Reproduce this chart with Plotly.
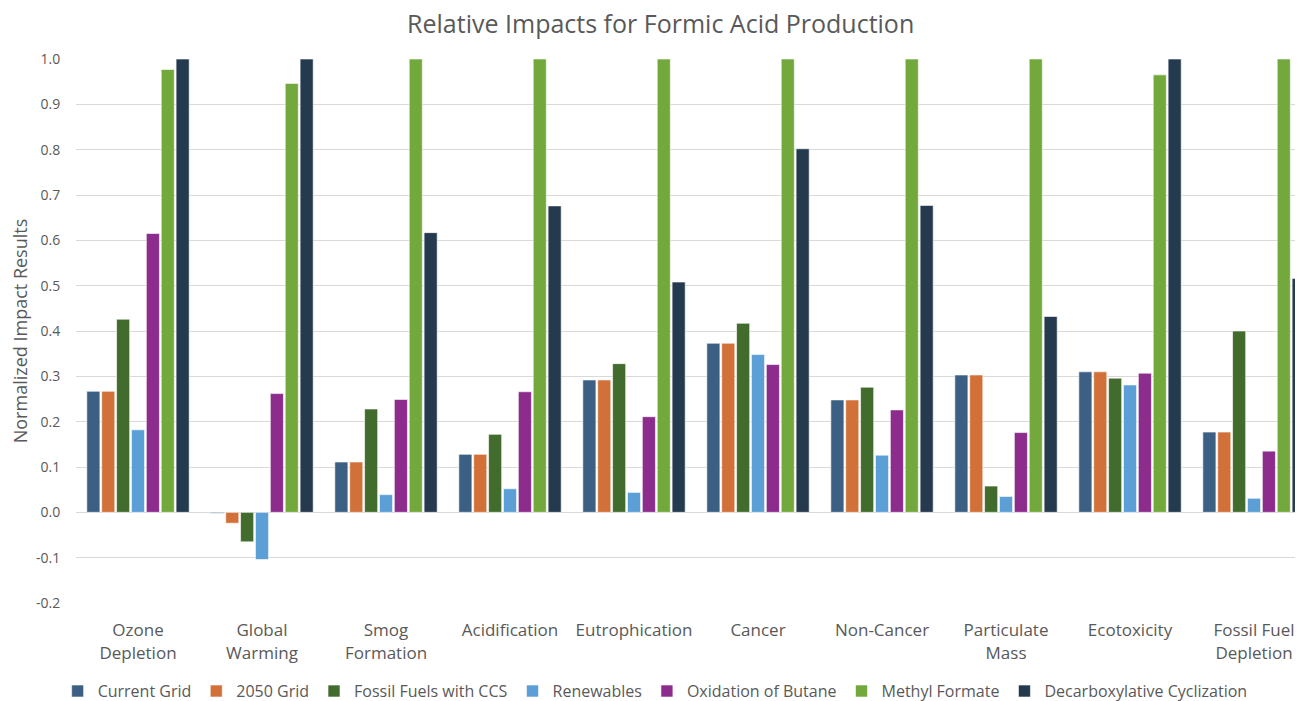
import plotly.graph_objects as go

categories = ["Ozone<br>Depletion", "Global<br>Warming", "Smog<br>Formation", "Acidification",
              "Eutrophication", "Cancer", "Non-Cancer", "Particulate<br>Mass", "Ecotoxicity",
              "Fossil Fuel<br>Depletion"]

current_grid = [0.267, -0.002, 0.111, 0.128, 0.292, 0.373, 0.248, 0.303, 0.310, 0.177]
grid_2050 = [0.267, -0.024, 0.111, 0.128, 0.292, 0.373, 0.248, 0.303, 0.310, 0.177]
fossil_ccs = [0.426, -0.065, 0.228, 0.172, 0.328, 0.417, 0.276, 0.058, 0.296, 0.400]
renewables = [0.182, -0.104, 0.039, 0.052, 0.044, 0.348, 0.126, 0.035, 0.281, 0.031]
oxidation_butane = [0.615, 0.262, 0.249, 0.266, 0.211, 0.326, 0.226, 0.176, 0.307, 0.135]
methyl_formate = [0.977, 0.946, 1.0, 1.0, 1.0, 1.0, 1.0, 1.0, 0.965, 1.0]
decarboxylative = [1.0, 1.0, 0.617, 0.676, 0.508, 0.802, 0.677, 0.432, 1.0, 0.516]

series_names = ["Current Grid", "2050 Grid", "Fossil Fuels with CCS", "Renewables",
                "Oxidation of Butane", "Methyl Formate", "Decarboxylative Cyclization"]
series_values = [current_grid, grid_2050, fossil_ccs, renewables, oxidation_butane,
                 methyl_formate, decarboxylative]
series_colors = ["#3B6083", "#D2703A", "#426C2D", "#5B9FD6", "#8C2D8E", "#72A83C", "#253A4F"]

y_tickvals = [-0.2, -0.1, 0.0, 0.1, 0.2, 0.3, 0.4, 0.5, 0.6, 0.7, 0.8, 0.9, 1.0]
y_ticktext = ["-0.2", "-0.1", "0.0", "0.1", "0.2", "0.3", "0.4", "0.5", "0.6", "0.7", "0.8", "0.9", "1.0"]

FONT = "Open Sans"
GREY = "#595959"

fig = go.Figure()
for name, vals, col in zip(series_names, series_values, series_colors):
    fig.add_trace(go.Bar(
        name=name, x=categories, y=vals,
        marker=dict(color=col, line=dict(color="white", width=0.6)),
    ))

fig.update_layout(
    width=1295, height=693,
    barmode="group", bargap=0.16, bargroupgap=0.12,
    plot_bgcolor="white", paper_bgcolor="white",
    margin=dict(l=68, r=0, t=51, b=98, autoexpand=False),
    title=dict(text="Relative Impacts for Formic Acid Production", x=0.504, xanchor="center",
               y=0.976, yanchor="middle",
               font=dict(family=FONT, size=25, color=GREY)),
    font=dict(family=FONT, color=GREY),
    legend=dict(orientation="h", x=0.472, xanchor="center", y=-0.162, yanchor="middle",
                font=dict(family=FONT, size=16, color=GREY), traceorder="normal",
                itemwidth=30),
    showlegend=True,
)
fig.update_xaxes(
    range=[-0.5, 9.395], showgrid=False, showline=False,
    ticks="outside", ticklen=12, tickcolor="rgba(0,0,0,0)", automargin=False,
    tickfont=dict(family=FONT, size=17, color=GREY),
)
fig.update_yaxes(
    range=[-0.2, 1.0], tickvals=y_tickvals, ticktext=y_ticktext,
    showgrid=True, gridcolor="#D9D9D9", gridwidth=1,
    zeroline=True, zerolinecolor="#D9D9D9", zerolinewidth=1,
    showline=False, ticks="outside", ticklen=12, tickcolor="rgba(0,0,0,0)", automargin=False,
    tickfont=dict(family=FONT, size=14, color=GREY),
    title=dict(text="Normalized Impact Results", font=dict(family=FONT, size=18, color=GREY),
               standoff=8),
)

fig.write_html("out.html")
